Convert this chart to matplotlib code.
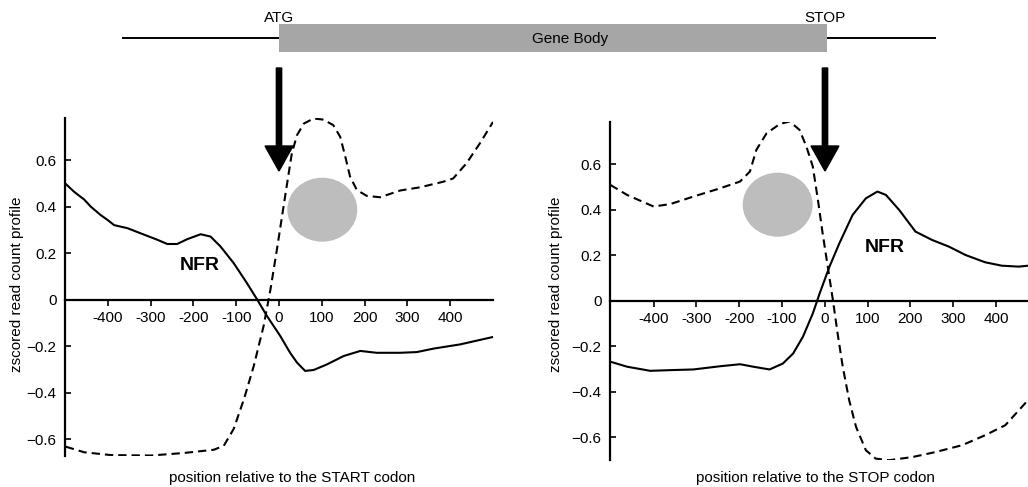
import matplotlib
matplotlib.use("Agg")
import matplotlib.pyplot as plt
from matplotlib.patches import Ellipse, Rectangle

plt.rcParams['font.family'] = ['Liberation Sans', 'DejaVu Sans']

# ---------------- data ----------------
start_solid_x = [-498, -479, -455, -440, -417, -401, -385, -354, -315, -284, -261, -238, -214, -183, -160, -137,
                 -106, -75, -51, -28, 3, 26, 42, 61, 81, 112, 151, 190, 228, 283, 322, 361, 423, 500]
start_solid_y = [0.497, 0.464, 0.43, 0.40, 0.364, 0.343, 0.32, 0.307, 0.279, 0.257, 0.239, 0.239, 0.26, 0.281,
                 0.271, 0.229, 0.157, 0.071, 0.0, -0.071, -0.157, -0.229, -0.271, -0.307, -0.303, -0.279,
                 -0.243, -0.221, -0.229, -0.229, -0.226, -0.211, -0.193, -0.161]

start_dash_x = [-498, -455, -393, -300, -222, -152, -129, -106, -82, -59, -36, -20, -5, 7, 19, 30, 42,
                58, 81, 104, 127, 143, 155, 166, 182, 205, 236, 283, 330, 384, 407, 438, 469, 500]
start_dash_y = [-0.633, -0.657, -0.669, -0.671, -0.66, -0.646, -0.629, -0.557, -0.429, -0.286, -0.114,
                0.043, 0.214, 0.357, 0.5, 0.629, 0.707, 0.757, 0.779, 0.774, 0.75, 0.7, 0.614, 0.529,
                0.471, 0.446, 0.44, 0.469, 0.483, 0.507, 0.521, 0.586, 0.671, 0.764]

stop_solid_x = [-501, -462, -408, -361, -307, -245, -198, -167, -129, -98, -74, -51, -28, -12, 11, 34,
                65, 96, 123, 143, 174, 212, 251, 290, 329, 375, 414, 453, 475]
stop_solid_y = [-0.268, -0.29, -0.308, -0.305, -0.302, -0.288, -0.279, -0.29, -0.302, -0.276, -0.232,
                -0.158, -0.056, 0.032, 0.15, 0.252, 0.377, 0.45, 0.48, 0.465, 0.399, 0.304, 0.267,
                0.238, 0.201, 0.169, 0.154, 0.15, 0.154]

stop_dash_x = [-501, -462, -400, -361, -307, -245, -198, -175, -160, -136, -105, -82, -59, -43, -28,
               -16, -5, 7, 19, 30, 42, 57, 73, 96, 119, 150, 205, 259, 321, 375, 422, 475]
stop_dash_y = [0.509, 0.465, 0.414, 0.425, 0.458, 0.494, 0.524, 0.568, 0.663, 0.736, 0.777, 0.788,
               0.751, 0.678, 0.59, 0.443, 0.296, 0.15, 0.003, -0.144, -0.29, -0.437, -0.554, -0.657,
               -0.694, -0.701, -0.687, -0.665, -0.635, -0.591, -0.547, -0.437]

xticks = [-400, -300, -200, -100, 0, 100, 200, 300, 400]
yticks = [-0.6, -0.4, -0.2, 0, 0.2, 0.4, 0.6]
ytick_labels = ['\u22120.6', '\u22120.4', '\u22120.2', '0', '0.2', '0.4', '0.6']

W, H = 1028, 487
fig = plt.figure(figsize=(W / 100, H / 100), dpi=100)


def style_axes(ax, xlim, ylim):
    ax.set_xlim(*xlim)
    ax.set_ylim(*ylim)
    ax.spines['top'].set_visible(False)
    ax.spines['right'].set_visible(False)
    ax.spines['bottom'].set_position(('data', 0))
    ax.spines['left'].set_linewidth(1.6)
    ax.spines['bottom'].set_linewidth(1.6)
    ax.set_xticks(xticks)
    ax.set_xticklabels([str(t) for t in xticks], fontsize=11)
    ax.set_yticks(yticks)
    ax.set_yticklabels(ytick_labels, fontsize=11)
    ax.tick_params(axis='x', direction='out', length=4, width=1.2, pad=4)
    ax.tick_params(axis='y', direction='in', length=4, width=1.2, pad=6)
    ax.patch.set_alpha(0)


# Left panel (START)
ax1 = fig.add_axes([65 / W, 1 - 456 / H, 428 / W, 338 / H])
style_axes(ax1, (-500, 500), (-0.673, 0.781))
ax1.plot(start_solid_x, start_solid_y, color='black', lw=1.5)
ax1.plot(start_dash_x, start_dash_y, color='black', lw=1.5, dashes=[4, 2.4])

# Right panel (STOP)
ax2 = fig.add_axes([610 / W, 1 - 460 / H, 418 / W, 338.3 / H])
style_axes(ax2, (-502, 475), (-0.70, 0.787))
ax2.plot(stop_solid_x, stop_solid_y, color='black', lw=1.5)
ax2.plot(stop_dash_x, stop_dash_y, color='black', lw=1.5, dashes=[4, 2.4])

# Axis labels
fig.text(17 / W, 1 - 284 / H, 'zscored read count profile', rotation=90,
         ha='center', va='center', fontsize=11)
fig.text(556 / W, 1 - 284 / H, 'zscored read count profile', rotation=90,
         ha='center', va='center', fontsize=11)
fig.text(292 / W, 1 - 478 / H, 'position relative to the START codon',
         ha='center', va='center', fontsize=11)
fig.text(815 / W, 1 - 478 / H, 'position relative to the STOP codon',
         ha='center', va='center', fontsize=11)

# Overlay for diagram (pixel coordinates)
ov = fig.add_axes([0, 0, 1, 1])
ov.set_xlim(0, W)
ov.set_ylim(H, 0)
ov.axis('off')
ov.patch.set_alpha(0)

ov.plot([123, 935], [37.7, 37.7], color='black', lw=1.4, zorder=1)
ov.add_patch(Rectangle((279.3, 24), 826.5 - 279.3, 51.7 - 24, facecolor='#a6a6a6',
                       edgecolor='none', zorder=2))
ov.text(570, 38.5, 'Gene Body', ha='center', va='center', fontsize=11, zorder=3)
ov.text(279, 22, 'ATG', ha='center', va='baseline', fontsize=11)
ov.text(825, 22, 'STOP', ha='center', va='baseline', fontsize=11)

for x0 in (279, 825):
    ov.arrow(x0, 68, 0, 171 - 68, width=5.3, head_width=28, head_length=25,
             length_includes_head=True, color='black', zorder=5)

ov.add_patch(Ellipse((322.3, 209.7), 70, 64, facecolor='#bdbdbd', edgecolor='none', zorder=0))
ov.add_patch(Ellipse((777.7, 204.7), 70, 64, facecolor='#bdbdbd', edgecolor='none', zorder=0))

ov.text(200, 266, 'NFR', ha='center', va='center', fontsize=14, fontweight='bold')
ov.text(884.5, 247, 'NFR', ha='center', va='center', fontsize=14, fontweight='bold')

fig.savefig('out.png', dpi=100)
